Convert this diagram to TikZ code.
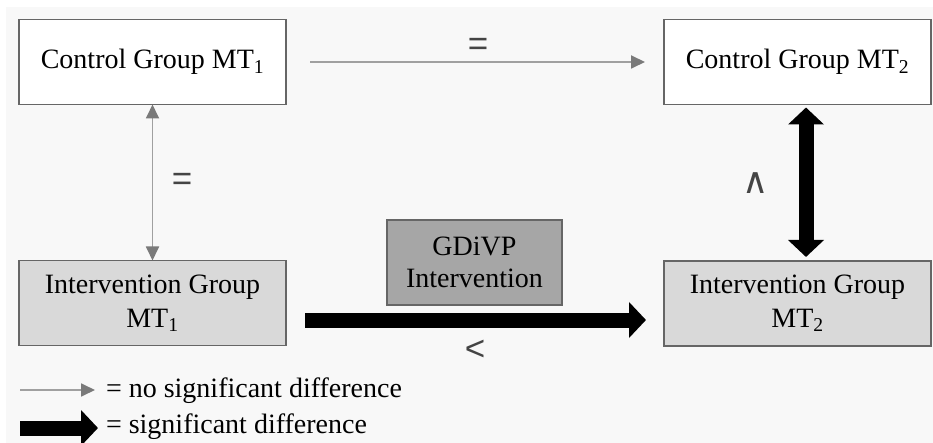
\documentclass[tikz,border=0pt]{standalone}
\usepackage{fontspec}
\setmainfont{Liberation Serif}
\newfontfamily\lsans{Liberation Sans}
\newfontfamily\djv{DejaVu Sans}
\usetikzlibrary{arrows.meta}
\definecolor{bgc}{HTML}{F8F8F8}
\definecolor{boxline}{HTML}{666666}
\definecolor{iglight}{HTML}{D9D9D9}
\definecolor{gdfill}{HTML}{A6A6A6}
\definecolor{thinline}{HTML}{A0A0A0}
\definecolor{thinhead}{HTML}{7A7A7A}
\definecolor{lblc}{HTML}{444444}
\begin{document}
\begin{tikzpicture}[x=1pt,y=-1pt,
  every node/.style={inner sep=0pt, outer sep=0pt},
  boxtxt/.style={font=\fontsize{28}{34}\selectfont},
  gbox/.style={boxtxt, draw=boxline, line width=1.8pt, align=center, minimum width=267pt, minimum height=85pt},
  ctrlbox/.style={gbox, fill=white},
  ivbox/.style={gbox, fill=iglight},
  gdbox/.style={gbox, fill=gdfill, minimum width=175pt, font=\fontsize{28}{32}\selectfont},
  thinarr/.style={draw=thinline, line width=1.8pt, -{Triangle[length=14pt,width=13pt,color=thinhead]}},
  thinboth/.style={draw=thinline, line width=1.8pt, {Triangle[length=14pt,width=13pt,color=thinhead]}-{Triangle[length=14pt,width=13pt,color=thinhead]}},
  thickarr/.style={draw=black, line width=15pt, -{Triangle[length=17pt,width=35pt]}},
  thickboth/.style={draw=black, line width=15pt, {Triangle[length=17pt,width=35pt]}-{Triangle[length=17pt,width=35pt]}},
  sym/.style={font=\lsans\fontsize{35}{35}\selectfont, text=lblc},
  legtxt/.style={font=\fontsize{28}{34}\selectfont, anchor=base west}
]
\useasboundingbox (0,0) rectangle (933,443);
\fill[white] (0,0) rectangle (933,443);
\fill[bgc] (6,7) rectangle (933,443);

\node[ctrlbox] (cg1) at (152.5,62) {Control Group MT\textsubscript{1}};
\node[ctrlbox] (cg2) at (797.5,62) {Control Group MT\textsubscript{2}};
\node[ivbox] (ig1) at (152.5,303) {Intervention Group\\MT\textsubscript{1}};
\node[ivbox] (ig2) at (797.5,303.5) {Intervention Group\\MT\textsubscript{2}};
\node[gdbox] (gd) at (474.5,262.5) {GDiVP\\Intervention};

% connectors
\draw[thinarr] ([xshift=24pt]cg1.east) -- ([xshift=-19pt]cg2.west);
\draw[thinboth] (cg1.south) -- (ig1.north);
\draw[thickboth] ([shift={(8.5pt,-3pt)}]cg2.south) -- ([shift={(8.5pt,4pt)}]ig2.north);
\draw[thickarr] ([shift={(19pt,-17pt)}]ig1.east) -- ([shift={(-18pt,-16.5pt)}]ig2.west);

% relation labels
\node[sym] (eqtop) at (478,47) {=};
\node[sym] (eqleft) at (182,182) {=};
\node[sym, font=\djv\fontsize{36}{36}\selectfont] (wedge) at (756,183) {∧};
\node[sym] (lt) at (475,350) {<};

% legend
\coordinate (l1a) at (20,390);
\coordinate (l1b) at (95,390);
\draw[thinarr] (l1a) -- (l1b);
\node[legtxt] (l1t) at (106,397) {= no significant difference};
\coordinate (l2a) at (20,428);
\coordinate (l2b) at (98,428);
\draw[thickarr] (l2a) -- (l2b);
\node[legtxt] (l2t) at (106,433) {= significant difference};
\end{tikzpicture}
\end{document}
